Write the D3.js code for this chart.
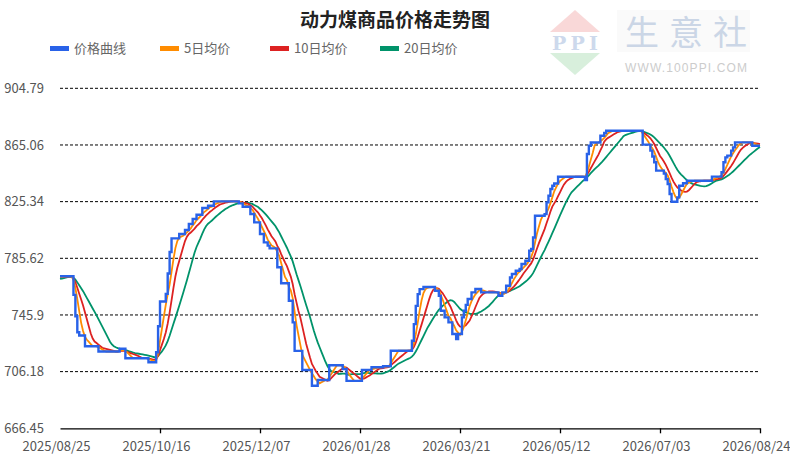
<!DOCTYPE html>
<html>
<head>
<meta charset="utf-8">
<script src="https://cdn.jsdelivr.net/npm/d3@7"></script>
<style>
  body { margin: 0; background: #fff; }
  text { font-family: "Noto Sans CJK SC", "Noto Sans", sans-serif; }
</style>
</head>
<body>
<script>
// price steps: day offset from 2025/08/25 where a new level starts
var stepDays = [0,7,8,9,10,13,20,31,34,46,50,51,52,55,56,57,58,62,65,67,69,71,74,77,80,93,95,99,101,104,106,108,109,113,115,119,121,122,126,131,134,140,147,149,157,162,168,172,183,184,185,186,187,189,195,197,198,200,202,204,206,207,209,210,211,212,214,216,219,228,230,232,234,235,237,239,240,242,244,245,246,247,252,253,254,255,256,257,259,273,274,275,276,281,283,284,303,307,308,309,310,314,315,316,317,318,321,322,324,326,339,344,345,346,347,349,350,351,360];
var stepPrices = [773,760,745,733.8,731.5,724,720.3,722.2,715.6,712.8,719.8,738,755.3,760.7,775,790,799.6,802.7,805.5,809.7,813.2,816.2,820.9,822.5,825.5,824.1,821.8,816.7,810.8,802.7,796.8,794.5,792.6,779.3,768.1,755.9,740.7,720.7,707.3,696.3,700.3,710.6,708,699.7,707.3,709.2,709.9,720.8,727.8,739.5,752.3,760.5,764,765.5,762.9,759.4,748.9,744.2,740.7,732.6,729.1,732.6,744.2,748.9,753,757.1,761.7,764.1,761.7,759.4,761.7,766.4,772.2,774.6,776.9,778.1,781.6,783.9,790.9,792.1,800.2,815.4,816.6,824.8,829.5,834.2,836.5,838.1,842.8,840.5,858.7,864.5,866.8,871.5,873.5,875,865.3,861.1,857,852.9,847.1,845,841.2,837.7,830.7,825.3,828.3,836.5,838.2,840,842.9,845.9,852.9,856.4,857.6,861.1,863.4,866.9,864.5];
// the 19 days before the window, needed for the moving averages
var priorPrices = [767,767,767,767,767,772.5,772.5,772.5,772.5,772.5,772.5,772.5,772.5,772.5,772.5,772.5,772.5,772.5,772.5];

var startDate = "2025/08/25";
var dayCount = 365;
var xTickLabels = ["2025/08/25","2025/10/16","2025/12/07","2026/01/28","2026/03/21","2026/05/12","2026/07/03","2026/08/24"];
var yTicks = [666.45, 706.18, 745.9, 785.62, 825.34, 865.06, 904.79];

var seriesNames = ["价格曲线", "5日均价", "10日均价", "20日均价"];
var seriesColors = ["#2962e8", "#ff8c00", "#dd2222", "#00936a"];
var maWindows = [5, 10, 20];

var parse = d3.utcParse("%Y/%m/%d");
var fmt = d3.utcFormat("%Y/%m/%d");
var t0 = parse(startDate);

// expand the steps into one price per day
var daily = [];
for (var i = 0; i < dayCount; i++) {
  var k = d3.bisectRight(stepDays, i) - 1;
  daily.push(stepPrices[k]);
}
var all = priorPrices.concat(daily);

var priceData = daily.map(function(p, i) { return {date: d3.utcDay.offset(t0, i), value: p}; });

var maData = maWindows.map(function(n) {
  return daily.map(function(p, i) {
    var j = i + priorPrices.length;
    return {date: d3.utcDay.offset(t0, i), value: d3.mean(all.slice(j - n + 1, j + 1))};
  });
});

var width = 790, height = 458;
var margin = {top: 88.3, right: 30, bottom: 29.7, left: 60};

var svg = d3.select("body").append("svg")
    .attr("width", width)
    .attr("height", height);

var x = d3.scaleUtc()
    .domain([t0, parse(xTickLabels[xTickLabels.length - 1])])
    .range([margin.left, width - margin.right]);

var y = d3.scaleLinear()
    .domain([yTicks[0], yTicks[yTicks.length - 1]])
    .range([height - margin.bottom, margin.top]);

// watermark logo
var wm = svg.append("g");
wm.append("rect").attr("x", 617).attr("y", 10).attr("width", 133).attr("height", 42).attr("fill", "#fafafa");
wm.append("path").attr("d", "M550,32L575,10L600,32Z").attr("fill", "#f9d8d8");
wm.append("path").attr("d", "M550,53L600,53L575,75Z").attr("fill", "#d8efdc");
wm.append("text").attr("x", 575).attr("y", 50).attr("text-anchor", "middle")
    .attr("font-weight", "bold").attr("font-size", 19)
    .attr("textLength", 46).attr("fill", "#cdd9ec").style("font-family", "DejaVu Serif").text("PPI");
wm.append("text").attr("x", 625).attr("y", 45).attr("font-size", 34)
    .attr("textLength", 122).attr("fill", "#cbd6e6").text("生意社");
wm.append("text").attr("x", 625).attr("y", 72).attr("font-size", 12)
    .attr("textLength", 122).attr("fill", "#cccccc").style("font-family", "Liberation Sans").text("WWW.100PPI.COM");

// title
svg.append("text")
    .attr("x", 395).attr("y", 27)
    .attr("text-anchor", "middle")
    .attr("font-size", 19).attr("font-weight", "bold").attr("fill", "#222")
    .text("动力煤商品价格走势图");

// legend
var leg = svg.selectAll(".legend")
    .data(seriesNames)
  .enter().append("g")
    .attr("class", "legend")
    .attr("transform", function(d, i) { return "translate(" + (50 + i * 110) + ",46)"; });
leg.append("rect").attr("width", 19).attr("height", 5)
    .attr("fill", function(d, i) { return seriesColors[i]; });
leg.append("text").attr("x", 24).attr("y", 2.5).attr("dy", "0.35em")
    .attr("font-size", 13).attr("fill", "#666")
    .text(function(d) { return d; });

// horizontal grid lines (dashed), bottom one is the axis line
svg.selectAll(".grid")
    .data(yTicks.slice(1))
  .enter().append("line")
    .attr("class", "grid")
    .attr("x1", margin.left).attr("x2", width - margin.right)
    .attr("y1", function(d) { return y(d); }).attr("y2", function(d) { return y(d); })
    .attr("stroke", "#000").attr("stroke-width", 1).attr("stroke-dasharray", "3,2");

// y labels
svg.selectAll(".ylab")
    .data(yTicks)
  .enter().append("text")
    .attr("class", "ylab")
    .attr("x", 44).attr("y", function(d) { return y(d); }).attr("dy", "0.35em")
    .attr("text-anchor", "end").attr("font-size", 13).attr("fill", "#555")
    .text(function(d) { return d; });

// x axis
var xAxis = svg.append("g")
    .attr("transform", "translate(0," + y(yTicks[0]) + ")")
    .call(d3.axisBottom(x)
      .tickValues(xTickLabels.map(parse))
      .tickFormat(fmt)
      .tickSize(5)
      .tickSizeOuter(0));
xAxis.select(".domain").attr("stroke", "#000").attr("stroke-width", 1.3);
xAxis.selectAll(".tick line").attr("stroke", "#000").attr("stroke-width", 1.3);
xAxis.selectAll(".tick").filter(function(d, i) { return i === 0; }).select("line").remove();
xAxis.selectAll(".tick text")
    .attr("font-family", "Noto Sans CJK SC").attr("font-size", 13).attr("fill", "#555")
    .attr("x", -4).attr("y", 13);

// moving average lines
var line = d3.line()
    .x(function(d) { return x(d.date); })
    .y(function(d) { return y(d.value); });

[2, 1, 0].forEach(function(m) {
  svg.append("path")
    .datum(maData[m])
    .attr("fill", "none")
    .attr("stroke", seriesColors[m + 1])
    .attr("stroke-width", 1.8)
    .attr("d", line);
});

// price step line
var stepLine = d3.line()
    .curve(d3.curveStepAfter)
    .x(function(d) { return x(d.date); })
    .y(function(d) { return y(d.value); });

svg.append("path")
    .datum(priceData)
    .attr("fill", "none")
    .attr("stroke", seriesColors[0])
    .attr("stroke-width", 2.4)
    .attr("d", stepLine);
</script>
</body>
</html>
